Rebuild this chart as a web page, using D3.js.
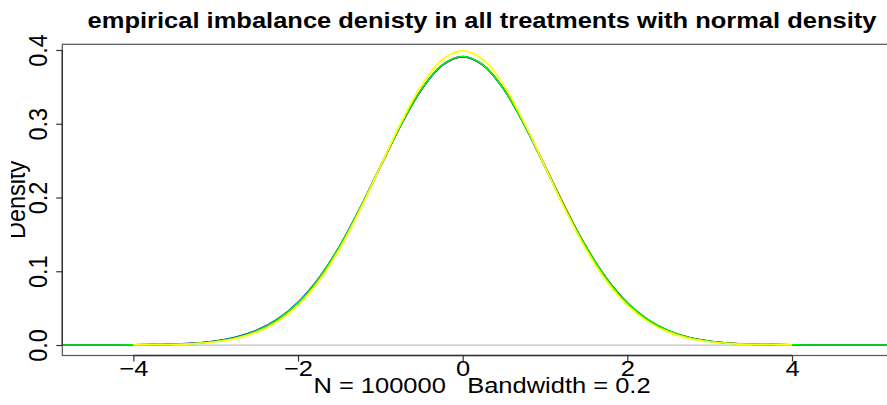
<!DOCTYPE html>
<html><head><meta charset="utf-8">
<script src="https://cdn.jsdelivr.net/npm/d3@7"></script>
<style>
html,body{margin:0;padding:0;background:#fff;}
svg{display:block;font-family:"Liberation Sans",Arial,sans-serif;}
</style></head>
<body>
<svg id="chart" width="887" height="405"></svg>
<script>
// ---- data ----
const titleText = "empirical imbalance denisty in all treatments with normal density";
const xLabelText = "N = 100000   Bandwidth = 0.2";
const yLabelText = "Density";
const xTicks = [-4, -2, 0, 2, 4];
const yTicks = [0.0, 0.1, 0.2, 0.3, 0.4];
const xLimits = [-4.863, 5.336];
const yLimits = [-0.0142, 0.4077];

// empirical density grid (x from -5 to 5.5 by 0.25)
const gridX = [-5,-4.75,-4.5,-4.25,-4,-3.75,-3.5,-3.25,-3,-2.75,-2.5,-2.25,-2,-1.75,-1.5,-1.25,-1,-0.75,-0.5,-0.25,
  0,0.25,0.5,0.75,1,1.25,1.5,1.75,2,2.25,2.5,2.75,3,3.25,3.5,3.75,4,4.25,4.5,4.75,5,5.25,5.5];
const densRed = [0,0,0,0.0001,0.0002,0.0005,0.0011,0.0024,0.0051,0.0102,0.0192,0.0340,0.0568,0.0893,0.1322,0.1843,0.2416,0.2982,0.3465,0.3790,
  0.3905,0.3795,0.3472,0.2992,0.2428,0.1855,0.1332,0.0900,0.0573,0.0343,0.0193,0.0102,0.0051,0.0024,0.0011,0.0005,0.0002,0.0001,0,0,0,0,0];
const densBlue = [0,0,0,0.0001,0.0002,0.0006,0.0012,0.0026,0.0055,0.0108,0.0200,0.0350,0.0580,0.0903,0.1330,0.1848,0.2418,0.2983,0.3466,0.3793,
  0.3910,0.3793,0.3466,0.2982,0.2416,0.1843,0.1323,0.0894,0.0570,0.0341,0.0192,0.0102,0.0051,0.0024,0.0011,0.0005,0.0002,0.0001,0,0,0,0,0];
const densGreen = [0,0,0,0.0001,0.0002,0.0005,0.0011,0.0024,0.0052,0.0103,0.0194,0.0343,0.0572,0.0897,0.1326,0.1846,0.2419,0.2985,0.3469,0.3796,
  0.3912,0.3796,0.3469,0.2985,0.2419,0.1846,0.1326,0.0897,0.0572,0.0343,0.0194,0.0103,0.0052,0.0024,0.0011,0.0005,0.0002,0.0001,0,0,0,0,0];
// normal density (x from -4 to 4 by 0.25)
const normX = [-4,-3.75,-3.5,-3.25,-3,-2.75,-2.5,-2.25,-2,-1.75,-1.5,-1.25,-1,-0.75,-0.5,-0.25,
  0,0.25,0.5,0.75,1,1.25,1.5,1.75,2,2.25,2.5,2.75,3,3.25,3.5,3.75,4];
const normY = [0.0001,0.0004,0.0009,0.0020,0.0044,0.0091,0.0175,0.0317,0.0540,0.0863,0.1295,0.1826,0.2420,0.3011,0.3521,0.3867,
  0.3989,0.3867,0.3521,0.3011,0.2420,0.1826,0.1295,0.0863,0.0540,0.0317,0.0175,0.0091,0.0044,0.0020,0.0009,0.0004,0.0001];

const seriesValues = [densRed, densBlue, densGreen];
const seriesColors = ["#FF0000","#0000FF","#00FF00"];
const normalColor = "#FFFF00";

// ---- layout ----
const plotLeft = 62.3, plotRight = 902, plotTop = 44.3, plotBottom = 355.5;
const fs = 23.5, sx = 1.085, sy = 0.92;

const svg = d3.select("#chart");
const x = d3.scaleLinear().domain(xLimits).range([plotLeft, plotRight]);
const y = d3.scaleLinear().domain(yLimits).range([plotBottom, plotTop]);

const defs = svg.append("defs");
defs.append("clipPath").attr("id","plotclip").append("rect")
  .attr("x", plotLeft).attr("y", plotTop).attr("width", plotRight-plotLeft).attr("height", plotBottom-plotTop);
defs.append("clipPath").attr("id","ylabclip").append("rect")
  .attr("x", 11).attr("y", 0).attr("width", 60).attr("height", 405);

const plot = svg.append("g").attr("clip-path","url(#plotclip)");

// zero line
plot.append("line")
  .attr("x1", x(xLimits[0])).attr("x2", x(xLimits[1]))
  .attr("y1", y(0)).attr("y2", y(0))
  .attr("stroke", "#BEBEBE").attr("stroke-width", 1.2);

const line = d3.line().curve(d3.curveCatmullRom.alpha(0.5));
seriesValues.forEach((vals, i) => {
  plot.append("path")
    .attr("d", line(gridX.map((xv, j) => [x(xv), y(vals[j])])))
    .attr("fill","none").attr("stroke", seriesColors[i]).attr("stroke-width", 1.6);
});
plot.append("path")
  .attr("d", line(normX.map((xv, j) => [x(xv), y(normY[j])])))
  .attr("fill","none").attr("stroke", normalColor).attr("stroke-width", 1.7);

// box
svg.append("rect")
  .attr("x", plotLeft).attr("y", plotTop)
  .attr("width", plotRight-plotLeft).attr("height", plotBottom-plotTop)
  .attr("fill","none").attr("stroke","#555").attr("stroke-width",1.2);

// axes
const xAxis = d3.axisBottom(x).tickValues(xTicks).tickSize(6).tickPadding(2).tickFormat(d3.format("d"));
const gx = svg.append("g").attr("transform", `translate(0,${plotBottom})`).call(xAxis);
gx.select(".domain").remove();
gx.selectAll(".tick line").attr("stroke","#333").attr("stroke-width",1.2);
gx.selectAll(".tick text")
  .attr("y", null).attr("dy", null)
  .attr("font-size", fs).attr("fill","#000")
  .attr("transform", `translate(0,${376-plotBottom}) scale(${sx},${sy})`);
svg.append("line").attr("x1", x(xTicks[0])).attr("x2", x(xTicks[xTicks.length-1]))
  .attr("y1", plotBottom).attr("y2", plotBottom).attr("stroke","#333").attr("stroke-width",1.4);

const yAxis = d3.axisLeft(y).tickValues(yTicks).tickSize(6).tickFormat(d3.format(".1f"));
const gy = svg.append("g").attr("transform", `translate(${plotLeft},0)`).call(yAxis);
gy.select(".domain").remove();
gy.selectAll(".tick line").attr("stroke","#333").attr("stroke-width",1.2);
gy.selectAll(".tick text")
  .attr("x", null).attr("dy", null).attr("text-anchor","middle")
  .attr("font-size", fs).attr("fill","#000")
  .attr("transform", `translate(${47-plotLeft},0) scale(${sx},1) rotate(-90)`);
svg.append("line").attr("x1", plotLeft).attr("x2", plotLeft)
  .attr("y1", y(yTicks[0])).attr("y2", y(yTicks[yTicks.length-1]))
  .attr("stroke","#333").attr("stroke-width",1.4);

// title
svg.append("text").text(titleText)
  .attr("text-anchor","middle").attr("font-weight","bold").attr("font-size", fs)
  .attr("transform", `translate(482,28) scale(${sx},${sy})`);

// x label
svg.append("text").text(xLabelText)
  .attr("text-anchor","middle").attr("font-size", fs).attr("xml:space","preserve")
  .style("white-space","pre")
  .attr("transform", `translate(482,393) scale(${sx},${sy})`);

// y label (clipped at left like the reference)
svg.append("g").attr("clip-path","url(#ylabclip)")
  .append("text").text(yLabelText)
  .attr("text-anchor","middle").attr("font-size", fs)
  .attr("transform", `translate(25,${(plotTop+plotBottom)/2}) scale(${sx},1) rotate(-90)`);
</script>
</body></html>
